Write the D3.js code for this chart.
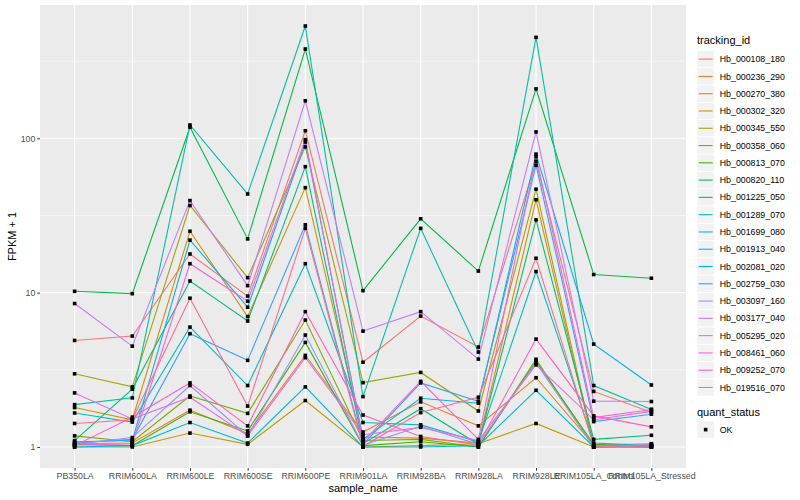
<!DOCTYPE html>
<html>
<head>
<meta charset="utf-8">
<script src="https://cdn.jsdelivr.net/npm/d3@7"></script>
<style>
  body { margin: 0; background: #fff; }
  text { font-family: "Liberation Sans", Arial, sans-serif; }
</style>
</head>
<body>
<svg id="chart" width="800" height="500"></svg>
<script>
// data (FPKM + 1)
const samples = ["PB350LA", "RRIM600LA", "RRIM600LE", "RRIM600SE", "RRIM600PE", "RRIM901LA",
  "RRIM928BA", "RRIM928LA", "RRIM928LE", "RRIM105LA_Control", "RRIM105LA_Stressed"];

const trackingIds = ["Hb_000108_180", "Hb_000236_290", "Hb_000270_380", "Hb_000302_320", "Hb_000345_550",
  "Hb_000358_060", "Hb_000813_070", "Hb_000820_110", "Hb_001225_050", "Hb_001289_070",
  "Hb_001699_080", "Hb_001913_040", "Hb_002081_020", "Hb_002759_030", "Hb_003097_160",
  "Hb_003177_040", "Hb_005295_020", "Hb_008461_060", "Hb_009252_070", "Hb_019516_070"];

const fpkm = [
  [4.9, 5.23, 17.8, 9.5, 112, 3.54, 7.05, 4.44, 71, 2.29, 1.68],
  [1.05, 1.06, 1.73, 1.22, 3.92, 1.25, 1.96, 1.37, 2.81, 1.03, 1.05],
  [1.8, 1.5, 25, 7.0, 47.9, 1.16, 1.14, 1.06, 40, 1.0, 1.03],
  [1.0, 1.0, 1.23, 1.04, 2.0, 1.0, 1.02, 1.05, 1.42, 1.0, 1.02],
  [2.98, 2.45, 36.7, 12.5, 88, 2.61, 3.04, 1.71, 46.8, 1.02, 1.0],
  [1.18, 1.08, 2.14, 1.65, 6.64, 1.1, 1.12, 1.0, 3.7, 1.0, 1.0],
  [1.04, 1.02, 1.69, 1.27, 4.76, 1.02, 1.08, 1.0, 3.6, 1.04, 1.0],
  [10.2, 9.85, 118, 22.3, 379, 10.3, 30.1, 13.8, 209, 13.1, 12.4],
  [1.1, 2.37, 11.9, 6.55, 65.5, 1.05, 1.77, 1.04, 29.6, 1.12, 1.19],
  [1.88, 2.08, 122, 43.6, 534, 2.12, 26.1, 4.12, 451, 2.5, 1.75],
  [1.66, 1.45, 5.98, 2.5, 15.4, 1.44, 1.39, 1.08, 13.7, 1.06, 1.02],
  [1.0, 1.02, 1.44, 1.06, 2.45, 1.0, 1.0, 1.02, 2.33, 1.0, 1.0],
  [1.08, 1.1, 21.9, 8.05, 94.6, 1.12, 2.07, 1.92, 79, 4.64, 2.52],
  [1.06, 1.12, 5.42, 3.64, 27.5, 1.04, 2.6, 1.98, 67, 1.46, 1.63],
  [1.04, 1.15, 2.5, 1.18, 5.31, 1.03, 1.36, 1.04, 3.5, 1.0, 1.04],
  [8.5, 4.5, 39.5, 11.1, 175, 5.63, 7.53, 3.71, 110, 1.98, 1.97],
  [2.24, 1.52, 2.1, 1.18, 3.79, 1.2, 1.34, 1.1, 3.4, 1.5, 1.7],
  [1.03, 1.05, 15.4, 8.8, 98, 1.08, 2.66, 1.12, 76, 1.55, 1.75],
  [1.02, 1.56, 2.6, 1.37, 7.53, 1.61, 1.17, 1.03, 5.0, 1.59, 1.35],
  [1.42, 1.5, 9.2, 1.84, 26.1, 1.01, 1.67, 2.1, 16.7, 1.01, 1.01]
];

const yTicks = [1, 10, 100];
const statusLevels = ["OK"];

// ggplot hue palette, 20 levels
const palette = ["#F8766D", "#EA8331", "#D89000", "#C09B00", "#A3A500", "#7CAE00", "#39B600", "#00BB4E",
  "#00BF7D", "#00C1A3", "#00BFC4", "#00BAE0", "#00B0F6", "#35A2FF", "#9590FF", "#C77CFF",
  "#E76BF3", "#FA62DB", "#FF62BC", "#FF6C91"];

const margin = {top: 5, right: 114, bottom: 32, left: 40};
const width = 800, height = 500;
const svg = d3.select("#chart");

const series = trackingIds.map((id, i) => ({
  id: id,
  values: samples.map((s, j) => ({sample: s, value: fpkm[i][j]}))
}));

const color = d3.scaleOrdinal().domain(trackingIds).range(palette);

const x = d3.scalePoint()
  .domain(samples)
  .range([margin.left, width - margin.right])
  .padding(0.6);

// log scale with ggplot-like 5% expansion in log space
const lmax = Math.log10(d3.max(fpkm.flat()));
const lmin = Math.log10(d3.min(fpkm.flat()));
const ex = (lmax - lmin) * 0.05;
const y = d3.scaleLog()
  .domain([Math.pow(10, lmin - ex), Math.pow(10, lmax + ex)])
  .range([height - margin.bottom, margin.top]);

const panelW = width - margin.right - margin.left;
const panelH = height - margin.bottom - margin.top;

// panel background
svg.append("rect")
  .attr("x", margin.left).attr("y", margin.top)
  .attr("width", panelW).attr("height", panelH)
  .attr("fill", "#EBEBEB");

// minor grid (half decades)
const minor = [0.5, 1.5, 2.5].map(d => Math.pow(10, d));
svg.append("g").selectAll("line")
  .data(minor.filter(d => y(d) > margin.top))
  .join("line")
  .attr("x1", margin.left).attr("x2", width - margin.right)
  .attr("y1", d => y(d)).attr("y2", d => y(d))
  .attr("stroke", "#fff").attr("stroke-width", 0.55);

// major grid
svg.append("g").selectAll("line")
  .data(yTicks)
  .join("line")
  .attr("x1", margin.left).attr("x2", width - margin.right)
  .attr("y1", d => y(d)).attr("y2", d => y(d))
  .attr("stroke", "#fff").attr("stroke-width", 1.1);

svg.append("g").selectAll("line")
  .data(samples)
  .join("line")
  .attr("x1", d => x(d)).attr("x2", d => x(d))
  .attr("y1", margin.top).attr("y2", height - margin.bottom)
  .attr("stroke", "#fff").attr("stroke-width", 1.1);

// lines
const line = d3.line()
  .x(d => x(d.sample))
  .y(d => y(d.value));

svg.append("g")
  .selectAll("path")
  .data(series)
  .join("path")
  .attr("fill", "none")
  .attr("stroke", d => color(d.id))
  .attr("stroke-width", 1.1)
  .attr("d", d => line(d.values));

// points
const sym = d3.symbol().type(d3.symbolSquare).size(13);
svg.append("g")
  .selectAll("path")
  .data(series.flatMap(s => s.values))
  .join("path")
  .attr("transform", d => `translate(${x(d.sample)},${y(d.value)})`)
  .attr("d", sym)
  .attr("fill", "#000");

// axes
const xAxis = g => g
  .attr("transform", `translate(0,${height - margin.bottom})`)
  .call(d3.axisBottom(x).tickSize(2.7).tickSizeOuter(0).tickPadding(2))
  .call(g => g.select(".domain").remove());

const yAxis = g => g
  .attr("transform", `translate(${margin.left},0)`)
  .call(d3.axisLeft(y).tickValues(yTicks).tickFormat(d3.format("d")).tickSize(2.7).tickPadding(2))
  .call(g => g.select(".domain").remove());

svg.append("g").call(xAxis)
  .call(g => g.selectAll(".tick line").attr("stroke", "#333"))
  .selectAll("text")
  .attr("font-family", "Liberation Sans, Arial, sans-serif")
  .style("font-size", "8.8px")
  .style("fill", "#4D4D4D");

svg.append("g").call(yAxis)
  .call(g => g.selectAll(".tick line").attr("stroke", "#333"))
  .selectAll("text")
  .attr("font-family", "Liberation Sans, Arial, sans-serif")
  .style("font-size", "8.8px")
  .style("fill", "#4D4D4D");

// axis titles
svg.append("text")
  .attr("x", margin.left + panelW / 2)
  .attr("y", 492)
  .attr("text-anchor", "middle")
  .style("font-size", "11px")
  .text("sample_name");

svg.append("text")
  .attr("transform", `translate(16,${margin.top + panelH / 2}) rotate(-90)`)
  .attr("text-anchor", "middle")
  .style("font-size", "11px")
  .text("FPKM + 1");

// legend: tracking_id
const lx = 697, key = 17.28;
const leg = svg.append("g");
leg.append("text")
  .attr("x", lx).attr("y", 44)
  .style("font-size", "11px")
  .text("tracking_id");

const items = leg.selectAll("g.item")
  .data(trackingIds)
  .join("g")
  .attr("class", "item")
  .attr("transform", (d, i) => `translate(${lx},${50.5 + i * key})`);

items.append("rect")
  .attr("width", key).attr("height", key)
  .attr("fill", "#F2F2F2").attr("stroke", "#fff").attr("stroke-width", 0.8);
items.append("line")
  .attr("x1", 1.7).attr("x2", key - 1.7)
  .attr("y1", key / 2).attr("y2", key / 2)
  .attr("stroke", d => color(d)).attr("stroke-width", 1.1);
items.append("text")
  .attr("x", key + 5.5).attr("y", key / 2 + 3.1)
  .style("font-size", "8.8px")
  .text(d => d);

// legend: quant_status
leg.append("text")
  .attr("x", lx).attr("y", 416)
  .style("font-size", "11px")
  .text("quant_status");

const st = leg.selectAll("g.status")
  .data(statusLevels)
  .join("g")
  .attr("class", "status")
  .attr("transform", (d, i) => `translate(${lx},${421 + i * key})`);
st.append("rect")
  .attr("width", key).attr("height", key)
  .attr("fill", "#F2F2F2").attr("stroke", "#fff").attr("stroke-width", 0.8);
st.append("path")
  .attr("transform", `translate(${key / 2},${key / 2})`)
  .attr("d", sym)
  .attr("fill", "#000");
st.append("text")
  .attr("x", key + 5.5).attr("y", key / 2 + 3.1)
  .style("font-size", "8.8px")
  .text(d => d);
</script>
</body>
</html>
